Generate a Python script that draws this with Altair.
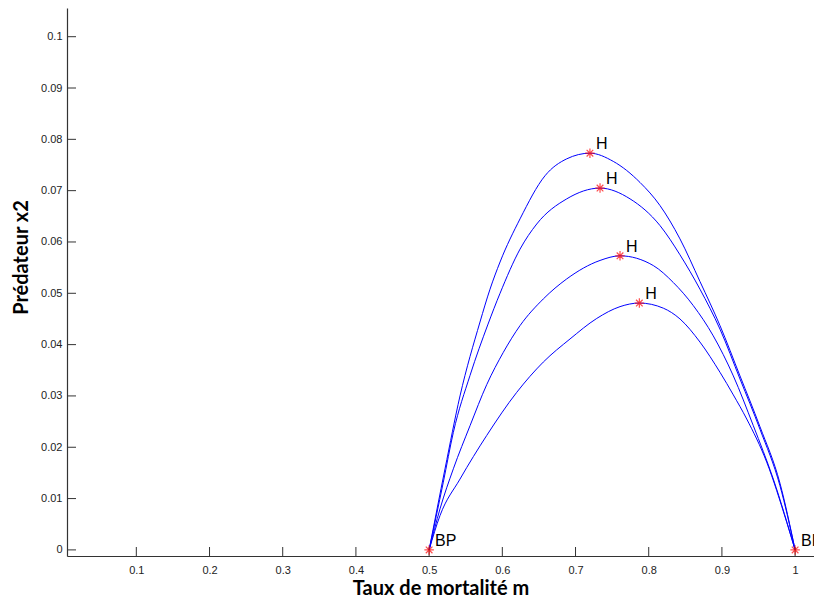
import altair as alt
import pandas as pd

# ---- data ----
c1_x = [0.5, 0.5217, 0.5422, 0.5695, 0.5832, 0.5969, 0.6242, 0.6583, 0.688, 0.7197,
        0.7516, 0.7881, 0.8154, 0.8427, 0.87, 0.8974, 0.9247, 0.952, 0.9793, 1.0]
c1_y = [0.0, 0.0158, 0.030, 0.0444, 0.0508, 0.0561, 0.0645, 0.0729, 0.0762, 0.0773,
        0.0757, 0.0716, 0.0671, 0.0606, 0.0523, 0.0437, 0.0339, 0.0240, 0.0130, 0.0]

c2_x = [0.5, 0.5194, 0.5331, 0.5559, 0.5805, 0.5969, 0.6242, 0.647, 0.688, 0.7335,
        0.7745, 0.8154, 0.8427, 0.87, 0.8974, 0.9247, 0.952, 0.9793, 1.0]
c2_y = [0.0, 0.0132, 0.0229, 0.0340, 0.0440, 0.0500, 0.0586, 0.0635, 0.0684, 0.0705,
        0.0684, 0.0632, 0.0575, 0.0508, 0.043, 0.0333, 0.0235, 0.0125, 0.0]

c3_x = [0.5, 0.5149, 0.5331, 0.5559, 0.5787, 0.6014, 0.6242, 0.656, 0.688, 0.7335, 0.7608,
        0.8063, 0.8336, 0.8609, 0.8882, 0.9156, 0.9429, 0.9702, 1.0]
c3_y = [0.0, 0.008, 0.0158, 0.0242, 0.0322, 0.0385, 0.0437, 0.0489, 0.0528, 0.0564, 0.0573,
        0.0554, 0.0521, 0.0476, 0.0417, 0.0339, 0.0242, 0.0138, 0.0]

c4_x = [0.5, 0.5149, 0.5422, 0.5787, 0.6197, 0.656, 0.6925, 0.729, 0.7608, 0.7872,
        0.82, 0.8427, 0.87, 0.8974, 0.9156, 0.9339, 0.9612, 0.9885, 1.0]
c4_y = [0.0, 0.0067, 0.0138, 0.0223, 0.0307, 0.0366, 0.0411, 0.0451, 0.0474, 0.0481,
        0.0471, 0.0450, 0.0405, 0.0346, 0.0302, 0.0255, 0.0171, 0.0054, 0.0]

# special points
pt_x = [0.7197, 0.7335, 0.7608, 0.7872, 0.5, 1.0]
pt_y = [0.0773, 0.0705, 0.0573, 0.0481, 0.0, 0.0]
pt_label = ["H", "H", "H", "H", "BP", "BP"]

x_ticks = [0.1, 0.2, 0.3, 0.4, 0.5, 0.6, 0.7, 0.8, 0.9, 1.0]
y_ticks = [0.0, 0.01, 0.02, 0.03, 0.04, 0.05, 0.06, 0.07, 0.08, 0.09, 0.1]

X_DOMAIN = [0.0053, 1.0258]
Y_DOMAIN = [-0.00119, 0.10559]
W, H = 747, 548

rows = []
for name, xs, ys in [("c1", c1_x, c1_y), ("c2", c2_x, c2_y), ("c3", c3_x, c3_y), ("c4", c4_x, c4_y)]:
    for i, (a, b) in enumerate(zip(xs, ys)):
        rows.append({"curve": name, "i": i, "m": a, "x2": b})
curves = pd.DataFrame(rows)
pts = pd.DataFrame({"m": pt_x, "x2": pt_y, "label": pt_label})
xt = pd.DataFrame({"v": x_ticks})
yt = pd.DataFrame({"v": y_ticks})

xscale = alt.Scale(domain=X_DOMAIN, nice=False, zero=False)
yscale = alt.Scale(domain=Y_DOMAIN, nice=False, zero=False)

xaxis = alt.Axis(values=x_ticks, format=".1~f", tickSize=0, grid=False,
                 labelFont="Liberation Sans", labelFontSize=11, labelColor="#222222",
                 labelPadding=8, domainColor="#333333", domainWidth=1.2,
                 title="Taux de mortalité m", titleFont="Lato", titleFontSize=20,
                 titleFontWeight="bold", titleColor="#000000",
                 titleBaseline="alphabetic", titleY=38)
yaxis = alt.Axis(values=y_ticks, format=".2~f", tickSize=0, grid=False,
                 labelFont="Liberation Sans", labelFontSize=11, labelColor="#222222",
                 labelPadding=5, domainColor="#333333", domainWidth=1.2,
                 title="Prédateur x2", titleFont="Lato", titleFontSize=20,
                 titleFontWeight="bold", titleColor="#000000",
                 titleX=-46, titleY=249, titleAngle=-90, titleAlign="center",
                 titleBaseline="middle")

lines = alt.Chart(curves).mark_line(color="#0000ff", strokeWidth=1, clip=True,
                                    interpolate="monotone").encode(
    x=alt.X("m:Q", scale=xscale, axis=xaxis),
    y=alt.Y("x2:Q", scale=yscale, axis=yaxis),
    detail="curve:N",
    order="i:Q",
)

star = "M-1,0L1,0M0,-1L0,1M-0.7,-0.7L0.7,0.7M-0.7,0.7L0.7,-0.7"
markers = alt.Chart(pts).mark_point(shape=star, size=90, color="#ff0000",
                                    filled=False, strokeWidth=1.2).encode(
    x=alt.X("m:Q", scale=xscale), y=alt.Y("x2:Q", scale=yscale))

labels = alt.Chart(pts).mark_text(align="left", baseline="alphabetic", dx=6, dy=-4,
                                  font="Liberation Sans", fontSize=16, color="#000000").encode(
    x=alt.X("m:Q", scale=xscale), y=alt.Y("x2:Q", scale=yscale), text="label:N")

xticks = alt.Chart(xt).mark_rule(color="#333333", strokeWidth=1).encode(
    x=alt.X("v:Q", scale=xscale), y=alt.value(H), y2=alt.value(H - 9))
yticks = alt.Chart(yt).mark_rule(color="#333333", strokeWidth=1).encode(
    y=alt.Y("v:Q", scale=yscale), x=alt.value(0), x2=alt.value(9))

chart = alt.layer(lines, xticks, yticks, markers, labels).properties(
    width=W, height=H,
    background="#ffffff",
    autosize=alt.AutoSizeParams(type="none"),
    padding={"left": 59, "top": 0, "right": 0, "bottom": 41},
).configure_view(stroke=None)

chart.save("out.html", embed_options={"renderer": "svg", "actions": False})
